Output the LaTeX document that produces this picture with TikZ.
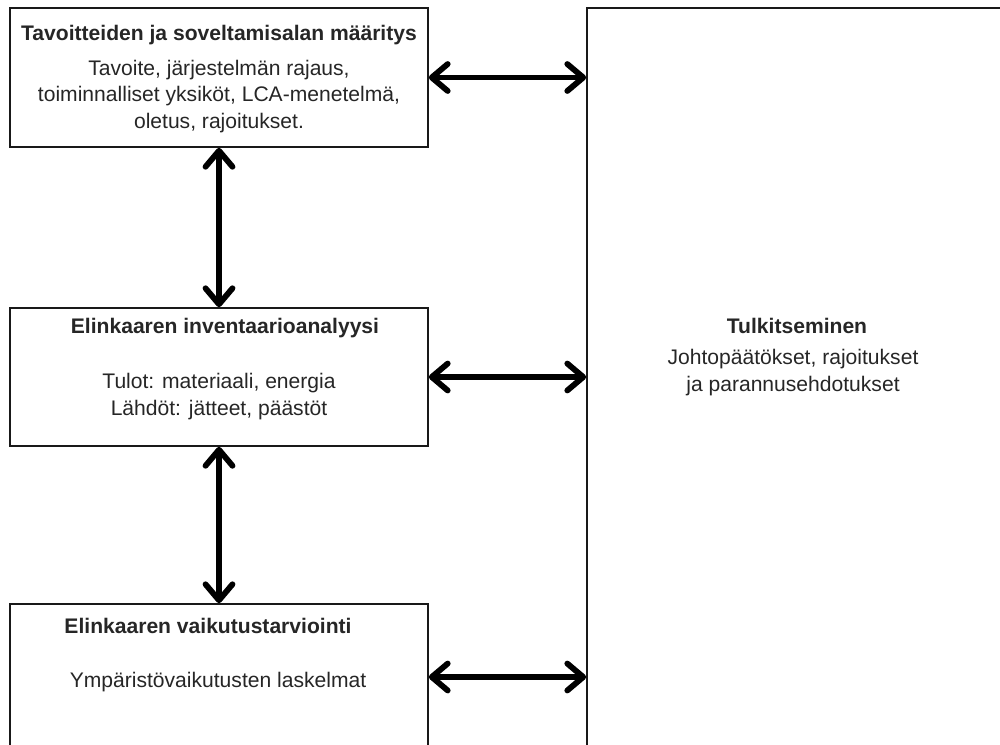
\documentclass[tikz,border=0pt]{standalone}
\usepackage{fontspec}
\setmainfont{Liberation Sans}
\usetikzlibrary{arrows.meta, positioning}

\begin{document}
\begin{tikzpicture}[
    x=0.02cm, y=-0.02cm,
    font=\fontsize{12}{15}\selectfont,
    every node/.style={align=center, text=black!85},
    box/.style={rectangle, draw=black!90, line width=1pt, inner sep=0pt},
    head/.style={anchor=base, font=\fontsize{12}{15}\selectfont\bfseries},
    body/.style={anchor=base},
    line/.style={{Straight Barb[length=3.2mm, width=5.4mm, round]}-{Straight Barb[length=3.2mm, width=5.4mm, round]}, line width=3.3pt}
]
\useasboundingbox (0,0) rectangle (1000,744);
\clip (0,0) rectangle (1000,744);
\node[box, minimum width=8.36cm, minimum height=2.78cm] (goal) at (219,77.5) {};
\node[box, minimum width=8.36cm, minimum height=2.76cm] (lci) at (219,377) {};
\node[box, minimum width=8.36cm, minimum height=2.92cm] (lcia) at (219,677) {};
\node[box, minimum width=8.32cm, minimum height=14.84cm] (tulk) at (795,379) {};
% texts
\node[head] (goalT) at (219,40) {Tavoitteiden ja soveltamisalan määritys};
\node[body] (goalB) at (219,128) {Tavoite, järjestelmän rajaus,\\
    toiminnalliset yksiköt, LCA-menetelmä,\\
    oletus, rajoitukset.};
\node[head] (lciT) at (225,333) {Elinkaaren inventaarioanalyysi};
\node[body] (lciB) at (219,415) {Tulot: materiaali, energia\\
    Lähdöt: jätteet, päästöt};
\node[head] (lciaT) at (208,633) {Elinkaaren vaikutustarviointi};
\node[body] (lciaB) at (218,687) {Ympäristövaikutusten laskelmat};
\node[head] (tulkT) at (797,333) {Tulkitseminen};
\node[body] (tulkB) at (793,391) {Johtopäätökset, rajoitukset\\
    ja parannusehdotukset};
% arrows
\draw[line] (goal.south) -- (lci.north);
\draw[line] (lci.south) -- (lcia.north);
\draw[line] (goal.east) -- (goal.east -| tulk.west);
\draw[line] (lci.east) -- (lci.east -| tulk.west);
\draw[line] (lcia.east) -- (lcia.east -| tulk.west);
\end{tikzpicture}
\end{document}
